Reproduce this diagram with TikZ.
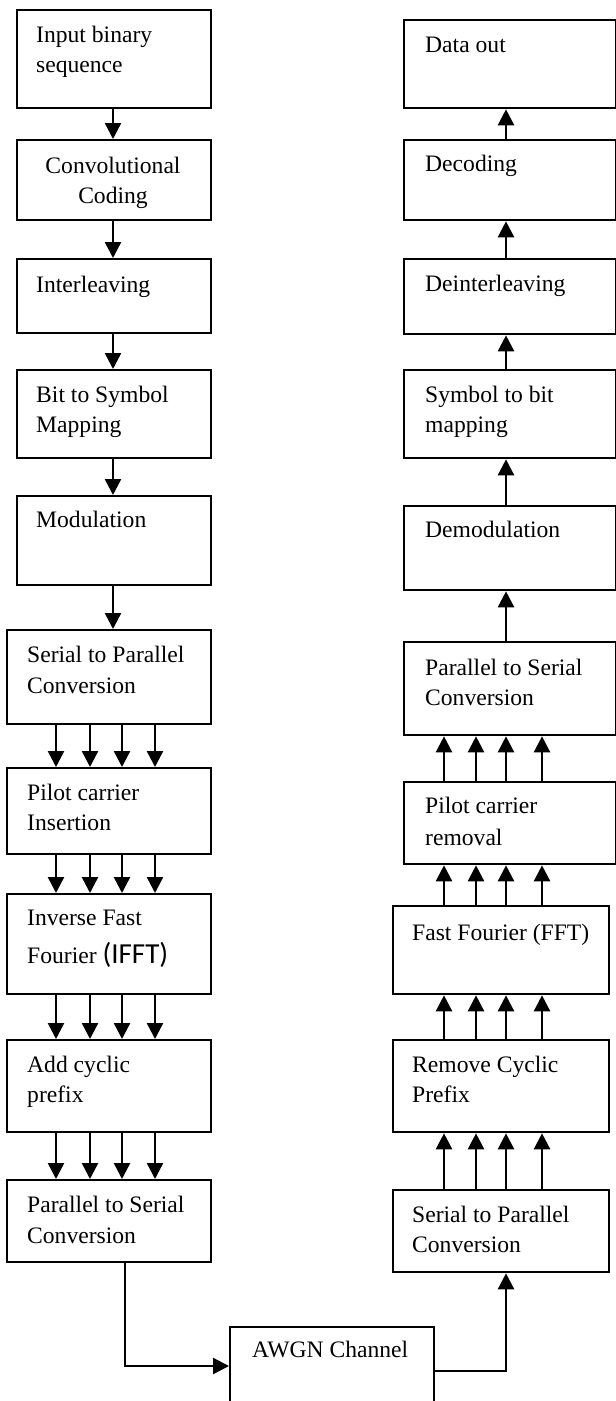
\documentclass[tikz,border=0pt]{standalone}
\usepackage{fontspec}
\setmainfont{Liberation Serif}
\newfontfamily\calfont{Carlito}
\usetikzlibrary{arrows.meta}
\begin{document}
\begin{tikzpicture}[x=1pt,y=-1pt,
  box/.style={draw,line width=2.3pt,rectangle,inner sep=0pt,anchor=north west},
  lbl/.style={anchor=base west,inner sep=0pt,font=\fontsize{23.6}{29}\selectfont},
  clbl/.style={lbl,anchor=base},
  arr/.style={line width=2.4pt,-{Triangle[length=16pt,width=16pt]}}]
\useasboundingbox (0,0) rectangle (616,1401);
\clip (0,0) rectangle (616,1401);
% left column boxes
\node[box,minimum width=194pt,minimum height=98pt] (L1) at (16,9) {};
\node[box,minimum width=194pt,minimum height=80pt] (L2) at (16,139) {};
\node[box,minimum width=194pt,minimum height=74pt] (L3) at (16,258) {};
\node[box,minimum width=194pt,minimum height=88pt] (L4) at (16,369) {};
\node[box,minimum width=194pt,minimum height=89pt] (L5) at (16,495) {};
\node[box,minimum width=204pt,minimum height=94pt] (L6) at (6,629) {};
\node[box,minimum width=204pt,minimum height=86pt] (L7) at (6,767) {};
\node[box,minimum width=204pt,minimum height=100pt] (L8) at (6,893) {};
\node[box,minimum width=204pt,minimum height=92pt] (L9) at (6,1039) {};
\node[box,minimum width=204pt,minimum height=82pt] (L10) at (6,1179) {};
% right column boxes
\node[box,minimum width=212pt,minimum height=88pt] (R1) at (403,19) {};
\node[box,minimum width=212pt,minimum height=80pt] (R2) at (403,139) {};
\node[box,minimum width=212pt,minimum height=75pt] (R3) at (403,258) {};
\node[box,minimum width=212pt,minimum height=88pt] (R4) at (403,369) {};
\node[box,minimum width=212pt,minimum height=84pt] (R5) at (403,505) {};
\node[box,minimum width=212pt,minimum height=93pt] (R6) at (403,641) {};
\node[box,minimum width=212pt,minimum height=82pt] (R7) at (403,781) {};
\node[box,minimum width=216pt,minimum height=88pt] (R8) at (392,905) {};
\node[box,minimum width=216pt,minimum height=92pt] (R9) at (392,1039) {};
\node[box,minimum width=216pt,minimum height=82pt] (R10) at (392,1189) {};
% channel
\node[box,minimum width=204pt,minimum height=84pt] (AW) at (229,1326) {};
% labels
\node[lbl] (L1a) at (36,42) {Input binary};
\node[lbl] (L1b) at (36,72) {sequence};
\node[clbl] (L2a) at (113,173) {Convolutional};
\node[clbl] (L2b) at (113,203) {Coding};
\node[lbl] (L3a) at (36,292) {Interleaving};
\node[lbl] (L4a) at (36,402) {Bit to Symbol};
\node[lbl] (L4b) at (36,432) {Mapping};
\node[lbl] (L5a) at (36,527) {Modulation};
\node[lbl] (L6a) at (27,662) {Serial to Parallel};
\node[lbl] (L6b) at (27,693) {Conversion};
\node[lbl] (L7a) at (27,800) {Pilot carrier};
\node[lbl] (L7b) at (27,830) {Insertion};
\node[lbl] (L8a) at (27,925) {Inverse Fast};
\node[lbl] (L8b) at (27,963) {Fourier {\calfont\fontsize{29}{32}\selectfont (IFFT)}};
\node[lbl] (L9a) at (27,1072) {Add cyclic};
\node[lbl] (L9b) at (27,1102) {prefix};
\node[lbl] (L10a) at (27,1212) {Parallel to Serial};
\node[lbl] (L10b) at (27,1243) {Conversion};
\node[lbl] (R1a) at (425,52) {Data out};
\node[lbl] (R2a) at (425,171) {Decoding};
\node[lbl] (R3a) at (425,291) {Deinterleaving};
\node[lbl] (R4a) at (425,402) {Symbol to bit};
\node[lbl] (R4b) at (425,432) {mapping};
\node[lbl] (R5a) at (425,537) {Demodulation};
\node[lbl] (R6a) at (425,675) {Parallel to Serial};
\node[lbl] (R6b) at (425,705) {Conversion};
\node[lbl] (R7a) at (425,813) {Pilot carrier};
\node[lbl] (R7b) at (425,845) {removal};
\node[lbl] (R8a) at (412,940) {Fast Fourier (FFT)};
\node[lbl] (R9a) at (412,1072) {Remove Cyclic};
\node[lbl] (R9b) at (412,1102) {Prefix};
\node[lbl] (R10a) at (412,1222) {Serial to Parallel};
\node[lbl] (R10b) at (412,1252) {Conversion};
\node[lbl] (AWa) at (252,1357) {AWGN Channel};
% column coordinates
\coordinate (lm) at (113,0);
\coordinate (la) at (56,0);
\coordinate (lb) at (90,0);
\coordinate (lc) at (122,0);
\coordinate (ld) at (155,0);
\coordinate (rm) at (506,0);
\coordinate (ra) at (444,0);
\coordinate (rb) at (476,0);
\coordinate (rc) at (506,0);
\coordinate (rd) at (542,0);
\coordinate (lo) at (125,1366);
\coordinate (ro) at (0,1371);
% left single arrows
\foreach \a/\b in {L1/L2,L2/L3,L3/L4,L4/L5,L5/L6}
  \draw[arr] (\a.south -| lm) -- (\b.north -| lm);
% left quad arrows
\foreach \a/\b in {L6/L7,L7/L8,L8/L9,L9/L10}
  \foreach \c in {la,lb,lc,ld}
    \draw[arr] (\a.south -| \c) -- (\b.north -| \c);
% right single arrows (upward)
\foreach \a/\b in {R2/R1,R3/R2,R4/R3,R5/R4,R6/R5}
  \draw[arr] (\a.north -| rm) -- (\b.south -| rm);
% right quad arrows (upward)
\foreach \a/\b in {R7/R6,R8/R7,R9/R8,R10/R9}
  \foreach \c in {ra,rb,rc,rd}
    \draw[arr] (\a.north -| \c) -- (\b.south -| \c);
% channel links
\draw[arr] (L10.south -| lo) |- (AW.west |- lo);
\draw[arr] (AW.east |- ro) -| (R10.south -| rm);
\end{tikzpicture}
\end{document}
